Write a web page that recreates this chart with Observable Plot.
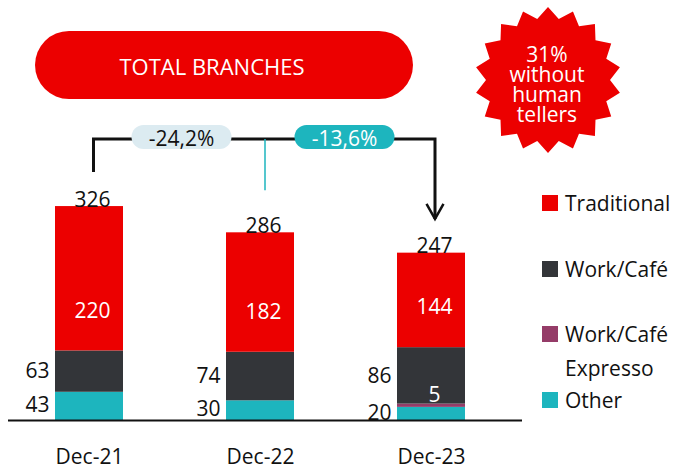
<!DOCTYPE html>
<html><head><meta charset="utf-8">
<script src="https://cdn.jsdelivr.net/npm/d3@7"></script>
<script src="https://cdn.jsdelivr.net/npm/@observablehq/plot@0.6"></script>
<style>html,body{margin:0;padding:0;background:#fff;} #chart{width:677px;height:470px;position:relative;}</style>
</head><body><div id="chart"></div>
<script>
const categories = ["Dec-21", "Dec-22", "Dec-23"];
const traditional = [220, 182, 144];
const workCafe = [63, 74, 86];
const workCafeExpresso = [0, 0, 5];
const other = [43, 30, 20];
const totals = [326, 286, 247];
const changeLabels = ["-24,2%", "-13,6%"];
const titleText = "TOTAL BRANCHES";
const badgeLines = ["31%", "without", "human", "tellers"];
const seriesOrder = ["Other", "Work/Café Expresso", "Work/Café", "Traditional"];
const seriesColors = ["#1DB5BE", "#953C68", "#333539", "#EC0000"];
const legendItems = [
  {key: "Traditional", lines: ["Traditional"]},
  {key: "Work/Café", lines: ["Work/Café"]},
  {key: "Work/Café Expresso", lines: ["Work/Café", "Expresso"]},
  {key: "Other", lines: ["Other"]}
];

const seriesValues = {"Other": other, "Work/Café Expresso": workCafeExpresso, "Work/Café": workCafe, "Traditional": traditional};
const rows = [];
categories.forEach((c, i) => seriesOrder.forEach(s => {
  if (seriesValues[s][i] > 0) rows.push({cat: c, series: s, value: seriesValues[s][i]});
}));
const info = categories.map((c, i) => ({
  cat: c, other: other[i], exp: workCafeExpresso[i], work: workCafe[i], trad: traditional[i],
  total: totals[i], top: other[i] + workCafeExpresso[i] + workCafe[i] + traditional[i]
}));

const FONT = "'Open Sans', sans-serif";
const plot = Plot.plot({
  width: 677, height: 470,
  marginLeft: 8, marginRight: 155, marginTop: 0, marginBottom: 50,
  style: {fontFamily: FONT, fontSize: "21px", color: "#111", background: "#fff", overflow: "visible"},
  x: {type: "band", domain: categories, range: [3, 517.5], paddingInner: 0.6, paddingOuter: 0.3},
  y: {domain: [0, 640], axis: null},
  color: {domain: seriesOrder, range: seriesColors},
  marks: [
    Plot.barY(rows, {x: "cat", y: "value", fill: "series"}),
    Plot.ruleY([0], {stroke: "#111", strokeWidth: 2}),
    Plot.text(info, {x: "cat", y: d => d.other + d.exp + d.work, text: d => String(d.trad), dy: -40, dx: 3, fill: "white", fontSize: 21}),
    Plot.text(info, {x: "cat", y: d => d.other + d.exp + d.work / 2, text: d => String(d.work), textAnchor: "end", dx: -40, fill: "#111", fontSize: 21}),
    Plot.text(info, {x: "cat", y: d => d.other / 2, text: d => String(d.other), textAnchor: "end", dx: -40, dy: -1, fill: "#111", fontSize: 21}),
    Plot.text(info.filter(d => d.exp > 0), {x: "cat", y: d => d.other + d.exp, text: d => String(d.exp), dy: -9, dx: 3, fill: "white", fontSize: 21}),
    Plot.text(info, {x: "cat", y: "top", text: d => String(d.total), lineAnchor: "bottom", dx: 3, fill: "#111", fontSize: 21}),
    Plot.axisX({tickSize: 0, tickPadding: 29, fontSize: 21, label: null})
  ]
});
document.getElementById("chart").appendChild(plot);

const svg = d3.select(plot);
const xs = plot.scale("x"), ys = plot.scale("y");
const cx = c => xs.apply(c) + xs.bandwidth / 2;
const yb = ys.apply(totals[0]) - 67;
const xl = cx(categories[0]) + 4.5, xm = cx(categories[1]) + 5, xr = cx(categories[2]) + 4;
const tip = ys.apply(totals[2]) - 39;

const g = svg.append("g").attr("text-anchor", "middle");
g.append("path")
  .attr("d", `M${xl},${ys.apply(totals[0]) - 34}V${yb}H${xr}V${tip}`)
  .attr("fill", "none").attr("stroke", "#111").attr("stroke-width", 3);
g.append("path")
  .attr("d", `M${xr - 8.5},${tip - 15}L${xr},${tip}L${xr + 8.5},${tip - 15}`)
  .attr("fill", "none").attr("stroke", "#111").attr("stroke-width", 2.5);
g.append("path")
  .attr("d", `M${xm},${yb}V${ys.apply(totals[1]) - 42}`)
  .attr("stroke", "#1DB5BE").attr("stroke-width", 1.5);

const pillCenters = [(cx(categories[0]) + cx(categories[1])) / 2 + 7, (cx(categories[1]) + cx(categories[2])) / 2 - 1];
const pillFills = ["#DCEBF1", "#1DB5BE"];
const pillText = ["#111", "#ffffff"];
changeLabels.forEach((t, i) => {
  g.append("rect").attr("x", pillCenters[i] - 50).attr("y", yb - 14).attr("width", 100).attr("height", 24)
    .attr("rx", 12).attr("fill", pillFills[i]);
  g.append("text").attr("x", pillCenters[i]).attr("y", yb + 7).attr("text-anchor", "middle")
    .attr("font-size", 21).attr("fill", pillText[i]).text(t);
});

// Title pill
g.append("rect").attr("x", 35).attr("y", 31).attr("width", 378).attr("height", 68).attr("rx", 34).attr("fill", "#EC0000");
g.append("text").attr("x", 212).attr("y", 75).attr("text-anchor", "middle").attr("font-size", 22)
  .attr("fill", "white").text(titleText);

// Starburst badge
const bc = [548, 80], R = 73, r = 62, nPts = 18;
const pts = d3.range(nPts * 2).map(k => {
  const a = (-90 + k * 180 / nPts) * Math.PI / 180, rr = k % 2 ? r : R;
  return [bc[0] + rr * Math.cos(a), bc[1] + rr * Math.sin(a)];
});
g.append("polygon").attr("points", pts.map(p => p.join(",")).join(" ")).attr("fill", "#EC0000");
badgeLines.forEach((t, i) => {
  g.append("text").attr("x", 547).attr("y", 62 + i * 20).attr("text-anchor", "middle")
    .attr("font-size", 21).attr("fill", "white").text(t);
});

// Legend
const legTops = [195, 261, 326, 392];
legendItems.forEach((it, i) => {
  const col = seriesColors[seriesOrder.indexOf(it.key)];
  g.append("rect").attr("x", 542).attr("y", legTops[i]).attr("width", 16).attr("height", 16).attr("fill", col);
  it.lines.forEach((ln, j) => {
    g.append("text").attr("x", 565).attr("y", legTops[i] + 16 + j * 34).attr("text-anchor", "start")
      .attr("font-size", 21).attr("fill", "#111").text(ln);
  });
});
</script></body></html>
